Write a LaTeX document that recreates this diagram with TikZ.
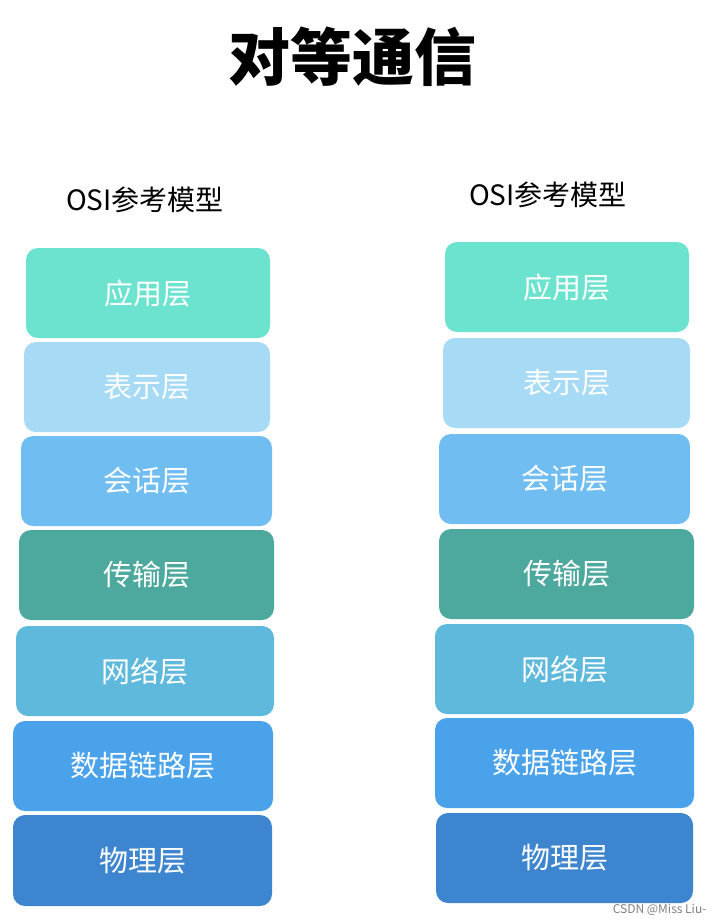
\documentclass[tikz,border=0pt]{standalone}
\usepackage{fontspec}
\setmainfont{Noto Sans CJK SC}
\definecolor{cA}{HTML}{6BE3CF}
\definecolor{cB}{HTML}{A6DAF5}
\definecolor{cC}{HTML}{70BDF1}
\definecolor{cD}{HTML}{4DA89D}
\definecolor{cE}{HTML}{5EB9DC}
\definecolor{cF}{HTML}{4AA3EA}
\definecolor{cG}{HTML}{3D86CF}
\begin{document}
\begin{tikzpicture}[x=1pt,y=-1pt,
  layer/.style={rounded corners=12pt,inner sep=0pt,text=white,font=\fontsize{29}{33}\selectfont}]
\useasboundingbox[fill=white] (0,0) rectangle (714,924);
\node (title) at (352,57) {\fontsize{62}{68}\selectfont\bfseries 对等通信};
\node (hl) at (145,200) {\fontsize{28}{32}\selectfont OSI参考模型};
\node (hr) at (548,195) {\fontsize{28}{32}\selectfont OSI参考模型};
\newcommand{\lay}[7]{\fill[#6,rounded corners=12pt] (#2,#3) rectangle (#4,#5);
  \node[layer] (#1) at ({(#2+#4)/2},{(#3+#5)/2}) {#7};}
\lay{l1}{26}{248}{270}{338}{cA}{应用层}
\lay{l2}{24}{342}{270}{432}{cB}{表示层}
\lay{l3}{21}{436}{272}{526}{cC}{会话层}
\lay{l4}{19}{530}{274}{620}{cD}{传输层}
\lay{l5}{16}{626}{274}{716}{cE}{网络层}
\lay{l6}{13}{721}{273}{811}{cF}{数据链路层}
\lay{l7}{13}{815}{272}{906}{cG}{物理层}
\lay{r1}{445}{242}{689}{332}{cA}{应用层}
\lay{r2}{443}{338}{690}{428}{cB}{表示层}
\lay{r3}{439}{434}{690}{524}{cC}{会话层}
\lay{r4}{439}{529}{694}{619}{cD}{传输层}
\lay{r5}{435}{624}{694}{714}{cE}{网络层}
\lay{r6}{435}{718}{694}{808}{cF}{数据链路层}
\lay{r7}{436}{813}{693}{903}{cG}{物理层}
\node[anchor=east,text=gray,font=\fontsize{12}{14}\selectfont] (wm) at (710,910) {CSDN @Miss Liu-};
\end{tikzpicture}
\end{document}
